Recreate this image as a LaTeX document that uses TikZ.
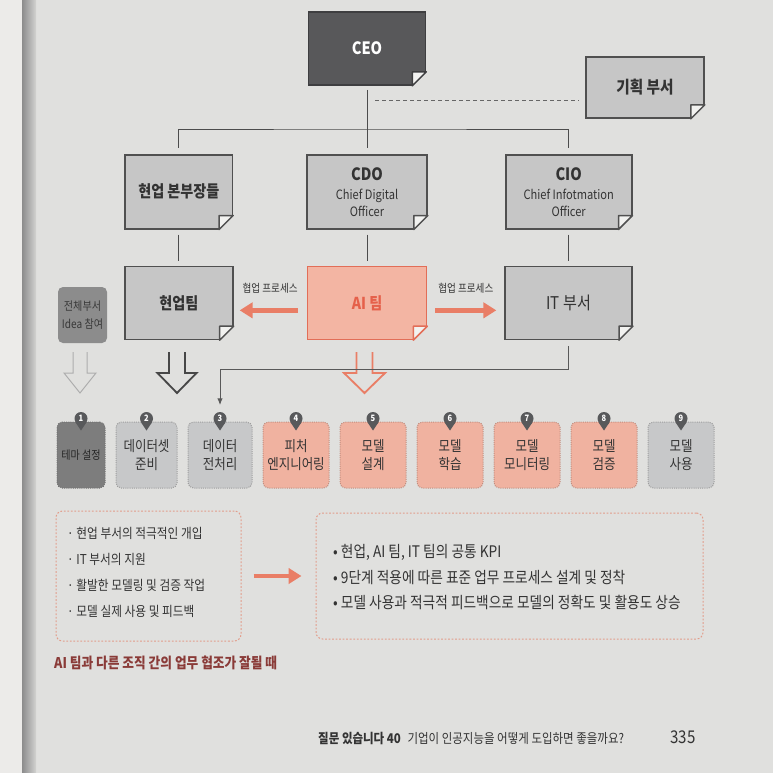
\documentclass[tikz,border=0pt]{standalone}
\usepackage{fontspec}
\setmainfont{Noto Sans CJK KR}[FakeStretch=0.86]
\usetikzlibrary{arrows.meta,positioning,calc}

\definecolor{pagebg}{HTML}{E0E0DE}
\definecolor{leftpage}{HTML}{ECEBE9}
\definecolor{ceofill}{HTML}{58585A}
\definecolor{ceoline}{HTML}{3E3E40}
\definecolor{notefill}{HTML}{C6C6C6}
\definecolor{noteline}{HTML}{505050}
\definecolor{aifill}{HTML}{F3B5A3}
\definecolor{ailine}{HTML}{E26E58}
\definecolor{aitext}{HTML}{E5604A}
\definecolor{salmon}{HTML}{E97E66}
\definecolor{ideafill}{HTML}{8C8C8C}
\definecolor{stepgray}{HTML}{C7C8C9}
\definecolor{steppink}{HTML}{F0B2A0}
\definecolor{stepdark}{HTML}{7D7D7D}
\definecolor{pinfill}{HTML}{58595B}
\definecolor{inktext}{HTML}{333333}
\definecolor{captext}{HTML}{8A3B38}
\definecolor{dashpink}{HTML}{E29C8A}
\definecolor{foldfill}{HTML}{F2F2F0}

\begin{document}
\begin{tikzpicture}[
  x=0.3mm, y=-0.3mm,
  >=Latex,
  text=inktext,
  node distance=10.8mm and 22mm,
  note/.style={draw=noteline,line width=0.5mm,fill=notefill,minimum height=22.2mm,
    align=center,inner sep=1mm,font=\bfseries\fontsize{14}{16}\selectfont},
  officer/.style={note,font=\fontsize{11}{14.5}\selectfont},
  ideabox/.style={fill=ideafill,rounded corners=1.5mm,minimum width=14.7mm,
    minimum height=16.8mm,align=center,inner sep=0.5mm,text=black!78,
    font=\fontsize{10}{15.4}\selectfont},
  stepbox/.style={rounded corners=1.6mm,minimum width=19.8mm,minimum height=19.8mm,
    align=center,inner xsep=0.5mm,line width=0.3mm,densely dotted,
    font=\fontsize{12.4}{15.5}\selectfont},
  graystep/.style={stepbox,fill=stepgray,draw=black!38},
  pinkstep/.style={stepbox,fill=steppink,draw=steppink!80!black},
  darkstep/.style={stepbox,fill=stepdark,draw=black!55,text=black!85},
  stepmark/.style={circle,fill=pinfill,text=white,inner sep=0pt,minimum size=3.9mm,
    font=\bfseries\fontsize{7.5}{8}\selectfont},
  tie/.style={draw=black!70,line width=0.3mm},
  planline/.style={draw=black!60,line width=0.3mm,dash pattern=on 1.2mm off 0.9mm},
  flow/.style={draw=salmon,line width=1.35mm,-{Triangle[length=3.9mm,width=4.6mm]}},
  itlink/.style={draw=black!65,line width=0.3mm,-{Latex[length=2mm,width=1.6mm]}},
  lbl/.style={inner sep=0pt,font=\fontsize{9.5}{10}\selectfont},
  dashbox/.style={draw=dashpink,line width=0.3mm,dash pattern=on 1.5pt off 1.5pt,
    rounded corners=2mm}
]
  % page
  \useasboundingbox (0,0) rectangle (773,773);
  \fill[pagebg] (0,0) rectangle (773,773);
  \fill[leftpage] (0,0) rectangle (22,773);
  \shade[left color=black!45,right color=pagebg!94!black] (22,0) rectangle (36,773);

  % organisation
  \node[note,fill=ceofill,draw=ceoline,text=white,minimum width=35.1mm,minimum height=21.9mm,
    font=\bfseries\fontsize{14.5}{16}\selectfont] (ceo) at (367,48.5) {CEO};
  \node[note,font=\bfseries\fontsize{14.5}{16}\selectfont,minimum width=35.4mm,minimum height=18.3mm]
    (plan) at (645,87.5) {기획 부서};
  \node[officer,minimum width=36mm,below=20.4mm of ceo] (cdo)
    {{\bfseries\fontsize{14.5}{16}\selectfont CDO}\\[0.6mm]Chief Digital\\Officer};
  \node[note,minimum width=32.1mm,left=21.9mm of cdo] (hq) {현업 본부장들};
  \node[officer,minimum width=37.8mm,right=23.1mm of cdo] (cio)
    {{\bfseries\fontsize{14.5}{16}\selectfont CIO}\\[0.6mm]Chief Infotmation\\Officer};

  \node[note,minimum width=32.4mm,minimum height=21.9mm,below=of hq] (bizteam) {현업팀};
  \node[note,fill=aifill,draw=ailine,text=aitext,minimum width=35.7mm,minimum height=21.9mm,
    below=of cdo] (aiteam) {AI 팀};
  \node[note,font=\fontsize{15}{17}\selectfont,minimum width=38.1mm,minimum height=21.9mm,
    below=of cio] (itdept) {IT 부서};
  \node[ideabox] (idea) at (82.5,315) {전체부서\\Idea 참여};

  % folded corners
  \foreach \n/\c in {ceo/ceoline,plan/noteline,hq/noteline,cdo/noteline,cio/noteline,
                     bizteam/noteline,aiteam/ailine,itdept/noteline}{
    \fill[pagebg] ($(\n.south east)+(2,-16)$) -- ($(\n.south east)+(2,2)$)
      -- ($(\n.south east)+(-16,2)$) -- cycle;
    \filldraw[fill=foldfill,draw=\c,line width=0.45mm,line join=round]
      ($(\n.south east)+(0,-14)$) -- ($(\n.south east)+(-14,0)$)
      -- ($(\n.south east)+(-14,-14)$) -- cycle;
  }

  % reporting lines
  \coordinate (split) at (367,129);
  \coordinate (planlink) at (375,100);
  \draw[tie,shorten <=1.2mm,shorten >=1.8mm] (ceo) -- (cdo);
  \draw[tie,shorten <=1.8mm,shorten >=1.8mm] (hq) |- (split) -| (cio);
  \draw[planline,shorten >=2mm] (planlink) -- (planlink -| plan.west);
  \foreach \a/\b in {hq/bizteam,cdo/aiteam,cio/itdept}
    \draw[tie,shorten <=1.5mm,shorten >=1.5mm] (\a) -- (\b);

  % cooperation
  \draw[flow,shorten <=2.7mm,shorten >=1.8mm] ($(aiteam.west)+(0,7.5)$) -- ($(bizteam.east)+(0,7.5)$)
    node[lbl,midway,above=4.5mm] {협업 프로세스};
  \draw[flow,shorten <=2.4mm,shorten >=2.4mm] ($(aiteam.east)+(0,7.5)$) -- ($(itdept.west)+(0,7.5)$)
    node[lbl,midway,above=4.5mm] {협업 프로세스};

  % nine steps
  \node[darkstep,minimum width=14.4mm,font=\fontsize{10}{11}\selectfont] (s1) at (81,455) {테마 설정};
  \node[graystep,minimum width=18.3mm,right=3mm of s1] (s2) {데이터셋\\준비};
  \node[graystep,minimum width=19.2mm,right=3mm of s2] (s3) {데이터\\전처리};
  \node[pinkstep,right=3mm of s3] (s4) {피처\\엔지니어링};
  \node[pinkstep,right=3mm of s4] (s5) {모델\\설계};
  \node[pinkstep,right=3mm of s5] (s6) {모델\\학습};
  \node[pinkstep,right=3mm of s6] (s7) {모델\\모니터링};
  \node[pinkstep,right=3mm of s7] (s8) {모델\\검증};
  \node[graystep,right=3mm of s8] (s9) {모델\\사용};
  \foreach \i in {1,...,9}{
    \node[stepmark] (m\i) at ($(s\i.north)+(0,-3)$) {\i};
    \fill[pinfill] (m\i.-145) -- (m\i.-35) -- ($(m\i.center)+(0,12)$) -- cycle;
  }

  % hollow arrows
  \foreach \x/\hw/\sw/\c/\w in {80/16/7/black!32/0.3mm,177/19.5/8/black!72/0.55mm,
                                364.5/20.5/8/salmon/0.55mm}
    \draw[\c,line width=\w] (\x-\sw,352) -- (\x-\sw,373) -- (\x-\hw,373) -- (\x,393)
      -- (\x+\hw,373) -- (\x+\sw,373) -- (\x+\sw,352);
  \draw[itlink,shorten <=0mm,shorten >=2mm] (itdept.south) ++(0,6) -- ++(0,23) -| (m3);

  % summary
  \node[dashbox,minimum width=55.5mm,minimum height=39mm] (leftbox) at (148.5,576) {};
  \node[dashbox,minimum width=116.1mm,minimum height=37.8mm] (rightbox) at (509.5,576) {};
  \node[anchor=west,align=left,inner sep=0pt,font=\fontsize{11.6}{22.2}\selectfont] (leftlist) at (67,572.5)
    {·~현업 부서의 적극적인 개입\\·~IT 부서의 지원\\·~활발한 모델링 및 검증 작업\\·~모델 실제 사용 및 피드백};
  \node[anchor=west,align=left,inner sep=0pt,font=\fontsize{13.6}{21.8}\selectfont] (rightlist) at (333,577.5)
    {•~현업, AI 팀, IT 팀의 공통 KPI\\•~9단계 적용에 따른 표준 업무 프로세스 설계 및 정착\\•~모델 사용과 적극적 피드백으로 모델의 정확도 및 활용도 상승};
  \draw[flow,shorten <=3.6mm,shorten >=4.2mm] (leftbox) -- (rightbox);
  \node[anchor=west,inner sep=0pt,text=captext,font=\bfseries\fontsize{12.6}{14}\selectfont] (caption)
    at (54,663) {AI 팀과 다른 조직 간의 업무 협조가 잘될 때};

  % footer
  \node[anchor=base west,inner sep=0pt,font=\fontsize{11.4}{13}\selectfont] (footer) at (318,743)
    {{\bfseries 질문 있습니다 40}\enspace 기업이 인공지능을 어떻게 도입하면 좋을까요?};
  \node[anchor=base west,inner sep=0pt,font=\fontsize{15}{17}\selectfont] (pagenum) at (670,743) {335};
\end{tikzpicture}
\end{document}
